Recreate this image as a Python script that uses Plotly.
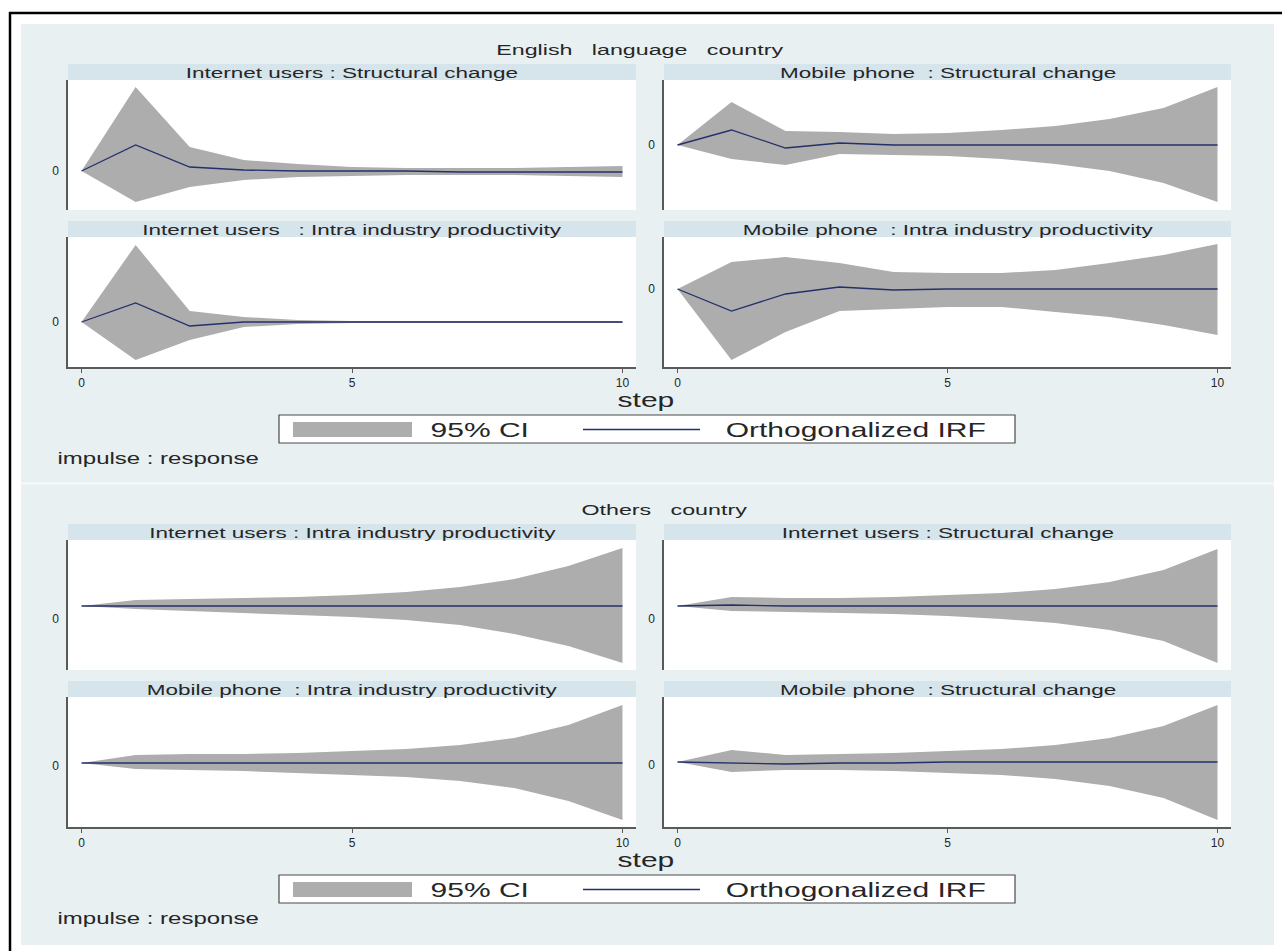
import plotly.graph_objects as go

W, H = 1282, 951
FONT = "Liberation Sans, Arial, sans-serif"
TEXT = "#262626"
BAND = "#ADADAD"
IRF_LINE = "#23306A"
AXIS = "#5a5a5a"
REGION = "#E8F0F2"
STRIP = "#D6E4EC"

steps = list(range(11))

# ---- English language country ----
eng_inet_sc_irf = [0, 0.026, 0.004, 0.001, 0.000, 0.000, 0.000, -0.001, -0.001, -0.001, -0.001]
eng_inet_sc_lo = [0, -0.031, -0.016, -0.009, -0.006, -0.005, -0.004, -0.004, -0.004, -0.005, -0.006]
eng_inet_sc_hi = [0, 0.084, 0.024, 0.011, 0.007, 0.004, 0.003, 0.003, 0.003, 0.004, 0.005]

eng_inet_ip_irf = [0, 0.019, -0.004, 0.000, 0.000, 0.000, 0.000, 0.000, 0.000, 0.000, 0.000]
eng_inet_ip_lo = [0, -0.038, -0.018, -0.005, -0.002, -0.001, -0.001, -0.001, -0.001, -0.001, -0.001]
eng_inet_ip_hi = [0, 0.077, 0.011, 0.005, 0.002, 0.001, 0.001, 0.001, 0.001, 0.001, 0.001]

eng_mob_sc_irf = [0, 0.015, -0.003, 0.002, 0.000, 0.000, 0.000, 0.000, 0.000, 0.000, 0.000]
eng_mob_sc_lo = [0, -0.014, -0.020, -0.009, -0.010, -0.011, -0.014, -0.019, -0.026, -0.038, -0.057]
eng_mob_sc_hi = [0, 0.043, 0.014, 0.013, 0.011, 0.012, 0.015, 0.019, 0.026, 0.037, 0.058]

eng_mob_ip_irf = [0, -0.022, -0.005, 0.002, -0.001, 0.000, 0.000, 0.000, 0.000, 0.000, 0.000]
eng_mob_ip_lo = [0, -0.071, -0.043, -0.022, -0.020, -0.018, -0.018, -0.023, -0.028, -0.036, -0.046]
eng_mob_ip_hi = [0, 0.027, 0.032, 0.026, 0.017, 0.016, 0.016, 0.019, 0.026, 0.034, 0.045]

# ---- Others country ----
oth_inet_ip_irf = [0, 0.000, 0.000, 0.000, 0.000, 0.000, 0.000, 0.000, 0.000, 0.000, 0.000]
oth_inet_ip_lo = [0, -0.003, -0.005, -0.007, -0.009, -0.011, -0.014, -0.019, -0.028, -0.040, -0.057]
oth_inet_ip_hi = [0, 0.006, 0.007, 0.008, 0.009, 0.011, 0.014, 0.019, 0.027, 0.040, 0.058]

oth_inet_sc_irf = [0, 0.001, 0.000, 0.000, 0.000, 0.000, 0.000, 0.000, 0.000, 0.000, 0.000]
oth_inet_sc_lo = [0, -0.005, -0.006, -0.007, -0.008, -0.010, -0.013, -0.017, -0.024, -0.035, -0.057]
oth_inet_sc_hi = [0, 0.009, 0.008, 0.008, 0.009, 0.011, 0.013, 0.017, 0.024, 0.036, 0.057]

oth_mob_ip_irf = [0, 0.000, 0.000, 0.000, 0.000, 0.000, 0.000, 0.000, 0.000, 0.000, 0.000]
oth_mob_ip_lo = [0, -0.006, -0.007, -0.008, -0.010, -0.012, -0.014, -0.018, -0.025, -0.038, -0.057]
oth_mob_ip_hi = [0, 0.008, 0.009, 0.009, 0.010, 0.012, 0.014, 0.018, 0.025, 0.038, 0.058]

oth_mob_sc_irf = [0, -0.001, -0.002, -0.001, -0.001, 0.000, 0.000, 0.000, 0.000, 0.000, 0.000]
oth_mob_sc_lo = [0, -0.010, -0.008, -0.008, -0.009, -0.011, -0.013, -0.017, -0.024, -0.036, -0.058]
oth_mob_sc_hi = [0, 0.012, 0.007, 0.008, 0.009, 0.011, 0.013, 0.017, 0.024, 0.036, 0.057]

group_titles = ["English\u00a0\u00a0\u00a0language\u00a0\u00a0\u00a0country", "Others\u00a0\u00a0\u00a0country"]
x_ticks = [0, 5, 10]
x_title = "step"
legend_labels = ["95% CI", "Orthogonalized IRF"]
note = "impulse : response"

# (group, row, col, strip title, irf, lower, upper, y-range, label shift px)
panels = [
    (0, 0, 0, "Internet users : Structural change", eng_inet_sc_irf, eng_inet_sc_lo, eng_inet_sc_hi, [-0.039, 0.091], 0),
    (0, 0, 1, "Mobile phone\u00a0\u00a0: Structural change", eng_mob_sc_irf, eng_mob_sc_lo, eng_mob_sc_hi, [-0.065, 0.065], 0),
    (0, 1, 0, "Internet users\u00a0\u00a0\u00a0: Intra industry productivity", eng_inet_ip_irf, eng_inet_ip_lo, eng_inet_ip_hi, [-0.045, 0.085], 0),
    (0, 1, 1, "Mobile phone\u00a0\u00a0: Intra industry productivity", eng_mob_ip_irf, eng_mob_ip_lo, eng_mob_ip_hi, [-0.078, 0.052], 0),
    (1, 0, 0, "Internet users : Intra industry productivity", oth_inet_ip_irf, oth_inet_ip_lo, oth_inet_ip_hi, [-0.064, 0.066], 13),
    (1, 0, 1, "Internet users : Structural change", oth_inet_sc_irf, oth_inet_sc_lo, oth_inet_sc_hi, [-0.064, 0.066], 13),
    (1, 1, 0, "Mobile phone\u00a0\u00a0: Intra industry productivity", oth_mob_ip_irf, oth_mob_ip_lo, oth_mob_ip_hi, [-0.064, 0.066], 3),
    (1, 1, 1, "Mobile phone\u00a0\u00a0: Structural change", oth_mob_sc_irf, oth_mob_sc_lo, oth_mob_sc_hi, [-0.065, 0.065], 3),
]

# ---- page geometry (pixels) ----
COL_X = [(68, 636), (664, 1231)]
ROW_PLOT = [(80, 210), (237, 367)]
ROW_STRIP = [(64, 80), (221, 237)]
GROUP_DY = [0, 460]


def fx(px):
    return px / W


def fy(py):
    return 1 - py / H


fig = go.Figure()
shapes = []
annotations = []

# outer frame and region background
shapes.append(dict(type="rect", xref="paper", yref="paper", x0=fx(21), x1=fx(1274), y0=fy(945), y1=fy(24),
                   fillcolor=REGION, line=dict(width=0), layer="below"))
shapes.append(dict(type="line", xref="paper", yref="paper", x0=fx(21), x1=fx(1274), y0=fy(483.5), y1=fy(483.5),
                   line=dict(color="#F5F9FA", width=2), layer="below"))
shapes.append(dict(type="line", xref="paper", yref="paper", x0=fx(9), x1=fx(1282), y0=fy(13), y1=fy(13),
                   line=dict(color="black", width=2.5), layer="above"))
shapes.append(dict(type="line", xref="paper", yref="paper", x0=fx(10), x1=fx(10), y0=fy(12), y1=fy(951),
                   line=dict(color="black", width=2.5), layer="above"))

layout_axes = {}
for i, (g, r, c, title, irf, lo, hi, yr, shift) in enumerate(panels, start=1):
    dy = GROUP_DY[g]
    x0, x1 = COL_X[c]
    py0, py1 = ROW_PLOT[r][0] + dy, ROW_PLOT[r][1] + dy
    sy0, sy1 = ROW_STRIP[r][0] + dy, ROW_STRIP[r][1] + dy

    shapes.append(dict(type="rect", xref="paper", yref="paper", x0=fx(x0), x1=fx(x1), y0=fy(sy1), y1=fy(sy0),
                       fillcolor=STRIP, line=dict(width=0), layer="below"))
    shapes.append(dict(type="rect", xref="paper", yref="paper", x0=fx(x0), x1=fx(x1), y0=fy(py1), y1=fy(py0),
                       fillcolor="white", line=dict(width=0), layer="below"))
    annotations.append(dict(text=title, xref="paper", yref="paper", x=fx((x0 + x1) / 2), y=fy((sy0 + sy1) / 2 + 0.5),
                            xanchor="center", yanchor="middle", showarrow=False,
                            font=dict(family=FONT, size=15, color=TEXT)))

    xa = "x" if i == 1 else f"x{i}"
    ya = "y" if i == 1 else f"y{i}"

    # confidence band as a closed polygon, then the IRF line
    fig.add_trace(go.Scatter(x=steps + steps[::-1], y=hi + lo[::-1], fill="toself", fillcolor=BAND,
                             mode="lines", line=dict(width=0, color=BAND), hoverinfo="skip",
                             showlegend=False, xaxis=xa, yaxis=ya))
    fig.add_trace(go.Scatter(x=steps, y=irf, mode="lines", line=dict(color=IRF_LINE, width=1.3),
                             showlegend=False, xaxis=xa, yaxis=ya))

    bottom = r == 1
    xkey = "xaxis" if i == 1 else f"xaxis{i}"
    ykey = "yaxis" if i == 1 else f"yaxis{i}"
    layout_axes[xkey] = dict(domain=[fx(x0), fx(x1)], range=[-0.25, 10.25], anchor=ya,
                             showgrid=False, zeroline=False,
                             showline=bottom, linecolor=AXIS, linewidth=1.5,
                             ticks="outside" if bottom else "", ticklen=4, tickwidth=1, tickcolor=AXIS,
                             tickvals=x_ticks, showticklabels=bottom,
                             tickfont=dict(family=FONT, size=12, color=TEXT))
    layout_axes[ykey] = dict(domain=[fy(py1), fy(py0)], range=yr, anchor=xa,
                             showgrid=False, zeroline=False,
                             showline=True, linecolor=AXIS, linewidth=1.5,
                             tickvals=[0], ticktext=["0"], ticks="outside", ticklen=5,
                             tickcolor="rgba(0,0,0,0)", ticklabelshift=shift,
                             tickfont=dict(family=FONT, size=12, color=TEXT))

# per-graph titles, axis title, legend and note
title_cx = [640, 664]
for g, dy in enumerate(GROUP_DY):
    annotations.append(dict(text=group_titles[g], xref="paper", yref="paper", x=fx(title_cx[g]), y=fy(49 + dy),
                            xanchor="center", yanchor="middle", showarrow=False,
                            font=dict(family=FONT, size=15.5, color=TEXT)))
    annotations.append(dict(text=x_title, xref="paper", yref="paper", x=fx(646), y=fy(400 + dy),
                            xanchor="center", yanchor="middle", showarrow=False,
                            font=dict(family=FONT, size=20, color=TEXT)))
    # legend frame, swatch and line key
    shapes.append(dict(type="rect", xref="paper", yref="paper", x0=fx(279), x1=fx(1015),
                       y0=fy(443 + dy), y1=fy(415 + dy), fillcolor="white",
                       line=dict(color="#4a4a4a", width=1.2), layer="above"))
    shapes.append(dict(type="rect", xref="paper", yref="paper", x0=fx(293), x1=fx(412),
                       y0=fy(437 + dy), y1=fy(422 + dy), fillcolor=BAND,
                       line=dict(width=0), layer="above"))
    shapes.append(dict(type="line", xref="paper", yref="paper", x0=fx(583), x1=fx(700),
                       y0=fy(429.5 + dy), y1=fy(429.5 + dy),
                       line=dict(color=IRF_LINE, width=1.4), layer="above"))
    annotations.append(dict(text=legend_labels[0], xref="paper", yref="paper", x=fx(480), y=fy(429.5 + dy),
                            xanchor="center", yanchor="middle", showarrow=False,
                            font=dict(family=FONT, size=20, color=TEXT)))
    annotations.append(dict(text=legend_labels[1], xref="paper", yref="paper", x=fx(855), y=fy(429.5 + dy),
                            xanchor="center", yanchor="middle", showarrow=False,
                            font=dict(family=FONT, size=20, color=TEXT)))
    annotations.append(dict(text=note, xref="paper", yref="paper", x=fx(158), y=fy(458 + dy),
                            xanchor="center", yanchor="middle", showarrow=False,
                            font=dict(family=FONT, size=16, color=TEXT)))

fig.update_layout(
    width=W, height=H,
    margin=dict(l=0, r=0, t=0, b=0),
    paper_bgcolor="white", plot_bgcolor="rgba(0,0,0,0)",
    showlegend=False,
    shapes=shapes, annotations=annotations,
    **layout_axes,
)

# Stata-style wide lettering for the annotation text
widen = """
var gd = document.getElementById('{plot_id}');
document.body.style.margin = '0';
gd.querySelectorAll('g.annotation text').forEach(function (t) {
  t.style.transformBox = 'fill-box';
  t.style.transformOrigin = 'center';
  t.style.transform = 'scaleX(1.5)';
});
"""

fig.write_html("out.html", post_script=widen)
